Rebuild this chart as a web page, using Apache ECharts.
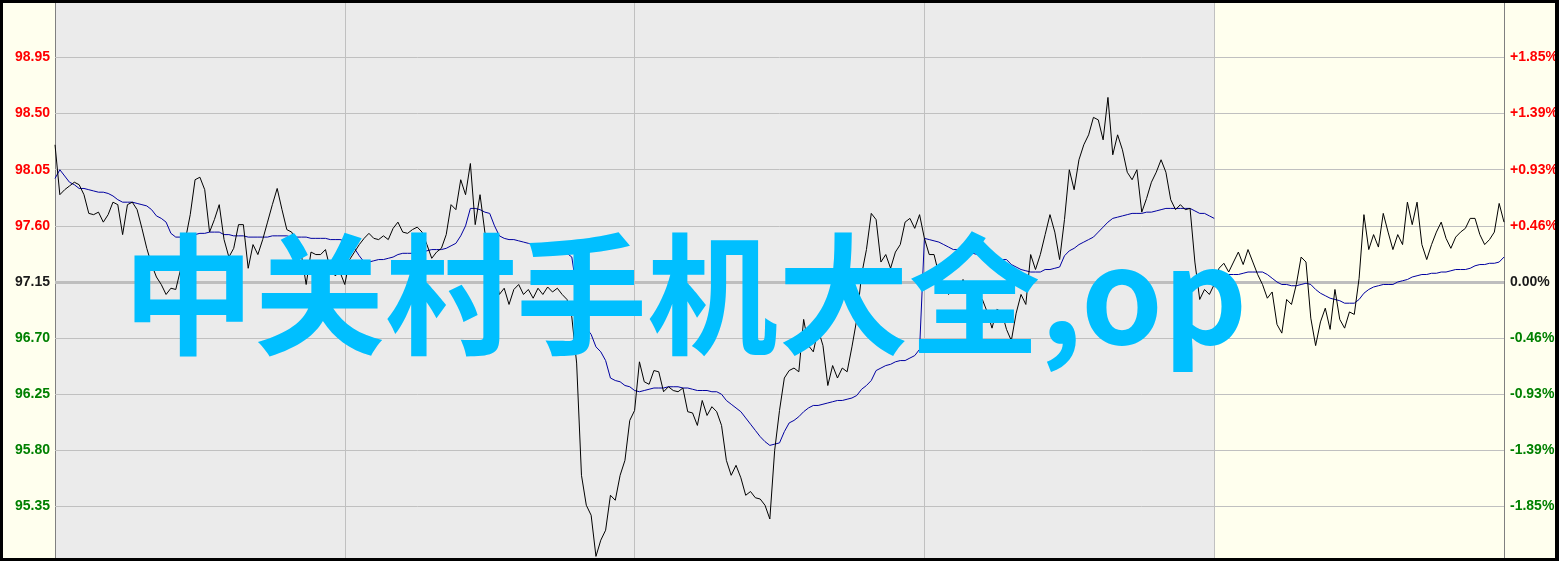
<!DOCTYPE html>
<html><head><meta charset="utf-8">
<script src="https://cdn.jsdelivr.net/npm/echarts@6/dist/echarts.min.js"></script>
<style>
html,body{margin:0;padding:0;background:#fff;overflow:hidden;}
#frame{width:1552px;height:555px;border-style:solid;border-color:#000;border-width:3px 4px 3px 3px;background:#FFFFEE;}
#chart{width:1552px;height:555px;}
</style></head><body>
<div id="frame"><div id="chart"></div></div>
<script>
const prevClose = 97.15;
const priceTicks = [95.35, 95.80, 96.25, 96.70, 97.15, 97.60, 98.05, 98.50, 98.95];
const sessionBreak = 240;
const totalSlots = 300;
const overlayText = '中关村手机大全,op';

const price = [
98.25, 97.85, 97.89, 97.92, 97.95, 97.93, 97.85, 97.70, 97.69, 97.71,
97.63, 97.69, 97.79, 97.77, 97.53, 97.77, 97.79, 97.73, 97.58, 97.42,
97.29, 97.19, 97.13, 97.05, 97.10, 97.09, 97.25, 97.49, 97.69, 97.97,
97.99, 97.89, 97.55, 97.65, 97.77, 97.49, 97.35, 97.42, 97.61, 97.61,
97.26, 97.45, 97.37, 97.49, 97.63, 97.77, 97.90, 97.73, 97.57, 97.55,
97.47, 97.37, 97.13, 97.39, 97.37, 97.37, 97.41, 97.25, 97.20, 97.23,
97.13, 97.33, 97.39, 97.45, 97.50, 97.54, 97.50, 97.49, 97.52, 97.49,
97.58, 97.63, 97.55, 97.54, 97.57, 97.59, 97.55, 97.45, 97.34, 97.39,
97.42, 97.53, 97.77, 97.73, 97.97, 97.85, 98.10, 97.61, 97.85, 97.55,
97.41, 97.25, 97.05, 97.10, 96.97, 97.09, 97.13, 97.05, 97.09, 97.02,
97.10, 97.05, 97.11, 97.07, 97.10, 97.05, 97.01, 96.87, 96.50, 95.60,
95.36, 95.28, 94.95, 95.08, 95.16, 95.44, 95.40, 95.60, 95.72, 96.04,
96.12, 96.51, 96.35, 96.33, 96.44, 96.43, 96.27, 96.31, 96.28, 96.27,
96.30, 96.11, 96.10, 96.00, 96.20, 96.08, 96.15, 96.11, 96.00, 95.72,
95.60, 95.68, 95.58, 95.44, 95.47, 95.42, 95.41, 95.36, 95.25, 95.80,
96.12, 96.38, 96.44, 96.46, 96.43, 96.85, 96.64, 96.59, 96.77, 96.64,
96.32, 96.48, 96.38, 96.46, 96.43, 96.63, 96.85, 97.21, 97.41, 97.70,
97.65, 97.31, 97.37, 97.26, 97.39, 97.45, 97.63, 97.66, 97.58, 97.69,
97.50, 97.37, 97.37, 97.21, 97.09, 97.05, 97.13, 97.09, 97.17, 97.10,
97.15, 97.05, 97.01, 96.91, 96.78, 96.93, 96.91, 96.77, 96.68, 96.90,
97.05, 96.97, 97.37, 97.25, 97.37, 97.53, 97.69, 97.55, 97.33, 97.65,
98.05, 97.89, 98.13, 98.25, 98.33, 98.47, 98.45, 98.29, 98.63, 98.17,
98.33, 98.21, 98.03, 97.97, 98.05, 97.71, 97.82, 97.95, 98.03, 98.13,
98.03, 97.81, 97.73, 97.77, 97.73, 97.74, 97.31, 97.01, 97.09, 97.05,
97.13, 97.26, 97.30, 97.23, 97.31, 97.39, 97.29, 97.41, 97.31, 97.21,
97.13, 97.02, 97.07, 96.81, 96.74, 97.01, 96.97, 97.13, 97.35, 97.31,
96.86, 96.64, 96.83, 96.94, 96.77, 97.09, 96.85, 96.78, 96.91, 96.89,
97.18, 97.69, 97.41, 97.53, 97.43, 97.70, 97.55, 97.41, 97.53, 97.45,
97.79, 97.61, 97.79, 97.45, 97.33, 97.45, 97.55, 97.63, 97.50, 97.42,
97.51, 97.55, 97.58, 97.66, 97.66, 97.53, 97.45, 97.49, 97.55, 97.78,
97.63
];

const avgSession1 = [
97.98, 98.05, 98.00, 97.95, 97.93, 97.90, 97.90, 97.89, 97.88, 97.87,
97.87, 97.86, 97.84, 97.81, 97.79, 97.79, 97.79, 97.78, 97.77, 97.76,
97.73, 97.68, 97.66, 97.63, 97.54, 97.51, 97.51, 97.51, 97.52, 97.53,
97.54, 97.54, 97.55, 97.55, 97.55, 97.53, 97.53, 97.52, 97.52, 97.52,
97.51, 97.51, 97.51, 97.51, 97.51, 97.52, 97.52, 97.52, 97.52, 97.51,
97.51, 97.51, 97.51, 97.50, 97.50, 97.50, 97.50, 97.49, 97.49, 97.49,
97.48, 97.47, 97.42, 97.36, 97.31, 97.31, 97.32, 97.33, 97.33, 97.34,
97.35, 97.37, 97.38, 97.38, 97.38, 97.39, 97.39, 97.40, 97.41, 97.41,
97.41, 97.42, 97.44, 97.46, 97.52, 97.60, 97.74, 97.74, 97.73, 97.71,
97.70, 97.60, 97.52, 97.50, 97.49, 97.49, 97.48, 97.47, 97.46, 97.45,
97.44, 97.43, 97.42, 97.41, 97.40, 97.39, 97.38, 97.35, 97.09, 96.89,
96.78, 96.73, 96.63, 96.59, 96.52, 96.38, 96.36, 96.35, 96.32, 96.31,
96.28, 96.27, 96.28, 96.29, 96.30, 96.30, 96.30, 96.31, 96.31, 96.31,
96.30, 96.30, 96.29, 96.28, 96.28, 96.28, 96.27, 96.27, 96.25, 96.20,
96.17, 96.14, 96.11, 96.06, 96.01, 95.96, 95.91, 95.87, 95.84, 95.85,
95.86, 95.95, 96.02, 96.04, 96.07, 96.11, 96.14, 96.16, 96.16, 96.17,
96.18, 96.19, 96.20, 96.20, 96.21, 96.22, 96.24, 96.29, 96.32, 96.36,
96.44, 96.46, 96.48, 96.49, 96.51, 96.52, 96.52, 96.54, 96.56, 96.61,
97.50, 97.49, 97.48, 97.47, 97.45, 97.43, 97.41, 97.41, 97.40, 97.39,
97.38, 97.37, 97.37, 97.36, 97.35, 97.34, 97.33, 97.33, 97.29, 97.27,
97.25, 97.24, 97.23, 97.23, 97.23, 97.25, 97.25, 97.26, 97.27, 97.36,
97.40, 97.42, 97.45, 97.47, 97.49, 97.51, 97.55, 97.59, 97.63, 97.66,
97.67, 97.68, 97.69, 97.70, 97.70, 97.70, 97.71, 97.71, 97.72, 97.73,
97.74, 97.74, 97.74, 97.74, 97.74, 97.74, 97.72, 97.70, 97.70, 97.68,
97.66
];

const avgSession2 = [
97.18, 97.20, 97.21, 97.21, 97.21, 97.22, 97.23, 97.23, 97.23, 97.23,
97.21, 97.18, 97.15, 97.13, 97.13, 97.12, 97.12, 97.13, 97.14, 97.13,
97.09, 97.06, 97.04, 97.02, 97.01, 97.00, 96.98, 96.98, 96.98, 97.01,
97.06, 97.09, 97.11, 97.12, 97.13, 97.13, 97.13, 97.15, 97.16, 97.17,
97.19, 97.20, 97.21, 97.21, 97.22, 97.22, 97.23, 97.23, 97.24, 97.25,
97.25, 97.25, 97.26, 97.28, 97.29, 97.29, 97.30, 97.30, 97.31, 97.35
];

const yMin = 94.937, yMax = 99.387;
const labelFont = {fontFamily: 'Liberation Sans', fontWeight: 'bold', fontSize: 14};
function labelColor(v) {
  const n = parseFloat(v);
  if (Math.abs(n - prevClose) < 1e-6) return '#1a1a1a';
  return n > prevClose ? '#FF0000' : '#008000';
}
function pctLabel(v) {
  const p = (v - prevClose) / prevClose * 100;
  if (Math.abs(p) < 1e-6) return '0.00%';
  return (p > 0 ? '+' : '-') + Math.abs(p).toFixed(2) + '%';
}

const chart = echarts.init(document.getElementById('chart'), null, {renderer: 'canvas'});
chart.setOption({
  animation: false,
  backgroundColor: '#FFFFEE',
  grid: {left: 52, right: 51, top: 0, bottom: 0, show: true, backgroundColor: '#EBEBEB', borderWidth: 0,
    containLabel: false, outerBoundsMode: 'none'},
  xAxis: {
    type: 'value', min: 0, max: totalSlots, interval: 60,
    axisLine: {show: false}, axisTick: {show: false}, axisLabel: {show: false},
    splitLine: {show: true, lineStyle: {color: '#C0C0C0', width: 1}}
  },
  yAxis: [
    {
      type: 'value', min: yMin, max: yMax, position: 'left',
      axisLine: {show: true, lineStyle: {color: '#808080', width: 1}},
      axisTick: {show: false, customValues: priceTicks},
      splitLine: {show: false},
      axisLabel: Object.assign({customValues: priceTicks, margin: 5,
        formatter: v => Number(v).toFixed(2), color: labelColor}, labelFont)
    },
    {
      type: 'value', min: yMin, max: yMax, position: 'right',
      axisLine: {show: true, lineStyle: {color: '#808080', width: 1}},
      axisTick: {show: false, customValues: priceTicks},
      splitLine: {show: false},
      axisLabel: Object.assign({customValues: priceTicks, margin: 6,
        formatter: v => pctLabel(Number(v)), color: labelColor}, labelFont)
    }
  ],
  graphic: [{
    type: 'text', z: 100, silent: true,
    style: {
      x: 120, y: 291, text: overlayText, fill: '#00BFFF',
      font: 'bold 131px "Noto Sans CJK SC"', textVerticalAlign: 'middle', textAlign: 'left'
    }
  }],
  series: [
    {
      type: 'line', name: 'grid', data: price.map((v, i) => [i, v]), z: 1,
      symbol: 'none', lineStyle: {opacity: 0}, silent: true,
      markArea: {silent: true, z: 1, itemStyle: {color: '#FFFFEE'},
        data: [[{xAxis: sessionBreak}, {xAxis: totalSlots}]]},
      markLine: {
        silent: true, z: 2, symbol: 'none', label: {show: false},
        lineStyle: {color: '#C0C0C0', width: 1, type: 'solid'},
        data: priceTicks.filter(v => v !== prevClose).map(v => ({yAxis: v}))
          .concat([{xAxis: sessionBreak}, {yAxis: prevClose, lineStyle: {color: '#BEBEBE', width: 3, type: 'solid'}}])
      }
    },
    {
      type: 'line', name: 'avg1', data: avgSession1.map((v, i) => [i, v]), z: 3,
      symbol: 'none', lineStyle: {color: '#0000A0', width: 1}
    },
    {
      type: 'line', name: 'avg2', data: avgSession2.map((v, i) => [sessionBreak + 1 + i, v]), z: 3,
      symbol: 'none', lineStyle: {color: '#0000A0', width: 1}
    },
    {
      type: 'line', name: 'price', data: price.map((v, i) => [i, v]), z: 4,
      symbol: 'none', lineStyle: {color: '#000000', width: 1}
    }
  ]
});
</script>
</body></html>
